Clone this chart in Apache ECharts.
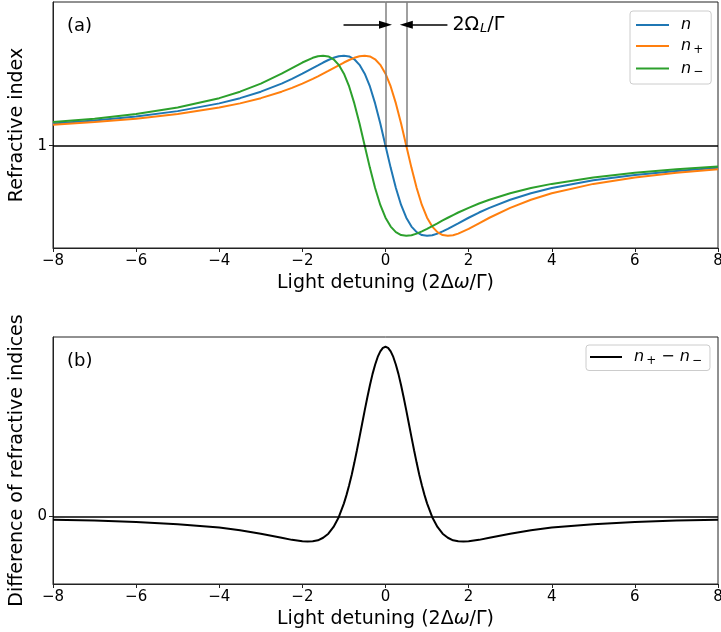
<!DOCTYPE html>
<html><head><meta charset="utf-8">
<script src="https://cdn.jsdelivr.net/npm/echarts@6/dist/echarts.min.js"></script>
<style>html,body{margin:0;padding:0;background:#fff}#c{width:721px;height:632px}</style>
</head><body><div id="c"></div><script>
// ---- data ----
const detuning = [-8,-7,-6,-5,-4,-3.5,-3,-2.5,-2.25,-2,
  -1.75,-1.625,-1.5,-1.375,-1.25,-1.125,-1,-0.875,-0.75,-0.625,-0.5,-0.375,-0.25,-0.125,0,
  0.125,0.25,0.375,0.5,0.625,0.75,0.875,1,1.125,1.25,1.375,1.5,1.625,1.75,
  2,2.25,2.5,3,3.5,4,5,6,7,8];
const nValues = [1.123,1.140,1.162,1.192,1.235,1.264,1.300,1.345,1.371,1.400,
  1.431,1.446,1.462,1.476,1.488,1.497,1.500,1.496,1.480,1.449,1.400,1.329,1.235,1.123,1.000,
  0.877,0.765,0.671,0.600,0.551,0.520,0.504,0.500,0.503,0.512,0.524,0.538,0.554,0.569,
  0.600,0.629,0.655,0.700,0.736,0.765,0.808,0.838,0.860,0.877];
const nPlusValues = [1.116,1.131,1.150,1.176,1.212,1.235,1.264,1.300,1.321,1.345,
  1.371,1.385,1.400,1.415,1.431,1.446,1.462,1.476,1.488,1.497,1.500,1.496,1.480,1.449,1.400,
  1.329,1.235,1.123,1.000,0.877,0.765,0.671,0.600,0.551,0.520,0.504,0.500,0.503,0.512,
  0.538,0.569,0.600,0.655,0.700,0.736,0.788,0.824,0.850,0.869];
const nMinusValues = [1.131,1.150,1.176,1.212,1.264,1.300,1.345,1.400,1.431,1.462,
  1.488,1.497,1.500,1.496,1.480,1.449,1.400,1.329,1.235,1.123,1.000,0.877,0.765,0.671,0.600,
  0.551,0.520,0.504,0.500,0.503,0.512,0.524,0.538,0.554,0.569,0.585,0.600,0.615,0.629,
  0.655,0.679,0.700,0.736,0.765,0.788,0.824,0.850,0.869,0.884];
const diffDetuning = [-8,-7,-6,-5,-4,-3.5,-3,-2.5,-2.25,-2,-1.875,
  -1.75,-1.625,-1.5,-1.375,-1.25,-1.125,-1,
  -0.9375,-0.875,-0.8125,-0.75,-0.6875,-0.625,-0.5625,-0.5,-0.4375,-0.375,-0.3125,-0.25,-0.1875,-0.125,-0.0625,0,
  0.0625,0.125,0.1875,0.25,0.3125,0.375,0.4375,0.5,0.5625,0.625,0.6875,0.75,0.8125,0.875,0.9375,
  1,1.125,1.25,1.375,1.5,1.625,1.75,
  1.875,2,2.25,2.5,3,3.5,4,5,6,7,8];
const diffValues = [-0.015,-0.019,-0.026,-0.036,-0.052,-0.065,-0.081,-0.100,-0.110,-0.117,-0.118,
  -0.117,-0.112,-0.100,-0.081,-0.049,-0.003,0.062,
  0.102,0.147,0.197,0.253,0.312,0.374,0.437,0.500,0.561,0.619,0.671,0.715,0.752,0.778,0.795,0.800,
  0.795,0.778,0.752,0.715,0.671,0.619,0.561,0.500,0.437,0.374,0.312,0.253,0.197,0.147,0.102,
  0.062,-0.003,-0.049,-0.081,-0.100,-0.112,-0.117,
  -0.118,-0.117,-0.110,-0.100,-0.081,-0.065,-0.052,-0.036,-0.026,-0.019,-0.015];
const topYTicks = [1];
const bottomYTicks = [0];
const topYRange = [0.432, 1.798];
const bottomYRange = [-0.318, 0.846];
const xRange = [-8, 8];
const xTickStep = 2;
const splittingMarks = [0, 0.5];      // 2Ω_L/Γ marker lines (x positions)
const arrowLevel = 1.672;             // y value of the annotation arrows
const arrowTails = [-1.01, 1.49];

// ---- chart ----
const FONT = 'DejaVu Sans';
const chart = echarts.init(document.getElementById('c'), null, {renderer: 'canvas'});
const pairs = (xs, ys) => xs.map((x, i) => [x, ys[i]]);
const fmtX = v => v < 0 ? '\u2212' + Math.abs(v) : String(v);

function xAxis(gi) {
  return {
    type: 'value', gridIndex: gi, min: xRange[0], max: xRange[1], interval: xTickStep,
    axisLine: {show: true, onZero: false, lineStyle: {color: '#222', width: 1}},
    axisTick: {show: true, length: 4, lineStyle: {color: '#222', width: 1}},
    axisLabel: {color: '#000', fontSize: 15, fontFamily: FONT, margin: 6, formatter: fmtX},
    splitLine: {show: false},
    name: 'Light detuning (2Δ{i|ω}/Γ)', nameLocation: 'middle', nameGap: 26,
    nameTextStyle: {color: '#000', fontSize: 19, fontFamily: FONT,
      rich: {i: {fontStyle: 'italic', fontSize: 19, fontFamily: FONT, color: '#000'}}}
  };
}
function yAxis(gi, range, ticks, name) {
  return {
    type: 'value', gridIndex: gi, min: range[0], max: range[1],
    axisLine: {show: true, onZero: false, lineStyle: {color: '#222', width: 1}},
    axisTick: {show: true, length: 4, customValues: ticks, lineStyle: {color: '#222', width: 1}},
    axisLabel: {color: '#000', fontSize: 15, fontFamily: FONT, margin: 6, customValues: ticks},
    splitLine: {show: false},
    name: name, nameLocation: 'middle', nameGap: 19,
    nameTextStyle: {color: '#000', fontSize: 19, fontFamily: FONT}
  };
}
const richLegend = {
  f: {fontStyle: 'italic', fontSize: 16, fontFamily: FONT, color: '#000', padding: [0, 0, 0, 7]},
  i: {fontStyle: 'italic', fontSize: 16, fontFamily: FONT, color: '#000'},
  s: {fontSize: 12, fontFamily: FONT, color: '#000', padding: [7, 0, 0, 2]},
  o: {fontSize: 16, fontFamily: FONT, color: '#000'}
};
const legendText = {
  'n': '{f|n}',
  'n+': '{f|n}{s|+}',
  'n-': '{f|n}{s|\u2212}',
  'n+ - n-': '{f|n}{s|+}{o| \u2212 }{i|n}{s|\u2212}'
};
const lineSeries = (name, xs, ys, color, xi, extra) => Object.assign({
  name, type: 'line', xAxisIndex: xi, yAxisIndex: xi, data: pairs(xs, ys),
  showSymbol: false, smooth: false, color,
  lineStyle: {color, width: 2}, emphasis: {disabled: true}, silent: true
}, extra || {});

const option = {
  animation: false,
  backgroundColor: '#fff',
  grid: [
    {left: 53, right: 3, top: 2, height: 246, show: true, borderColor: '#222', borderWidth: 1,
     outerBoundsMode: 'none', containLabel: false},
    {left: 53, right: 3, top: 337, height: 247, show: true, borderColor: '#222', borderWidth: 1,
     outerBoundsMode: 'none', containLabel: false}
  ],
  xAxis: [xAxis(0), xAxis(1)],
  yAxis: [yAxis(0, topYRange, topYTicks, 'Refractive index'),
          yAxis(1, bottomYRange, bottomYTicks, 'Difference of refractive indices')],
  legend: [
    {data: ['n', 'n+', 'n-'], orient: 'vertical', left: 630, top: 11,
     icon: 'rect', itemWidth: 33, itemHeight: 2, itemGap: 5,
     padding: [6, 8, 6, 6], borderColor: '#cccccc', borderWidth: 1, borderRadius: 3,
     backgroundColor: 'rgba(255,255,255,0.8)',
     formatter: n => legendText[n], textStyle: {rich: richLegend, fontSize: 16}},
    {data: ['n+ - n-'], orient: 'vertical', left: 586, top: 345,
     icon: 'rect', itemWidth: 32, itemHeight: 2,
     padding: [4, 8, 4, 4], borderColor: '#cccccc', borderWidth: 1, borderRadius: 3,
     backgroundColor: 'rgba(255,255,255,0.8)',
     formatter: n => legendText[n], textStyle: {rich: richLegend, fontSize: 16}}
  ],
  series: [
    lineSeries('n', detuning, nValues, '#1f77b4', 0, {
      markLine: {
        silent: true, animation: false, symbol: ['none', 'none'], label: {show: false},
        data: [
          [{coord: [splittingMarks[0], 1], lineStyle: {color: '#808080', width: 1.5, type: 'solid'}},
           {coord: [splittingMarks[0], topYRange[1]]}],
          [{coord: [splittingMarks[1], 1], lineStyle: {color: '#808080', width: 1.5, type: 'solid'}},
           {coord: [splittingMarks[1], topYRange[1]]}],
          [{coord: [arrowTails[0], arrowLevel], symbol: 'none', lineStyle: {color: '#000', width: 1.5, type: 'solid'}},
           {coord: [splittingMarks[0], arrowLevel], symbol: 'triangle', symbolSize: [8, 13]}],
          [{coord: [arrowTails[1], arrowLevel], symbol: 'none', lineStyle: {color: '#000', width: 1.5, type: 'solid'}},
           {coord: [splittingMarks[1], arrowLevel], symbol: 'triangle', symbolSize: [8, 13]}]
        ]
      }
    }),
    lineSeries('n+', detuning, nPlusValues, '#ff7f0e', 0),
    lineSeries('n-', detuning, nMinusValues, '#2ca02c', 0, {
      markLine: {
        silent: true, animation: false, symbol: ['none', 'none'], label: {show: false},
        lineStyle: {color: '#000', width: 1.5, type: 'solid'},
        data: [{yAxis: topYTicks[0]}]
      }
    }),
    lineSeries('n+ - n-', diffDetuning, diffValues, '#000000', 1, {
      markLine: {
        silent: true, animation: false, symbol: ['none', 'none'], label: {show: false},
        lineStyle: {color: '#000', width: 1.5, type: 'solid'},
        data: [{yAxis: bottomYTicks[0]}]
      }
    })
  ]
};
chart.setOption(option);

const annot = chart.convertToPixel({xAxisIndex: 0, yAxisIndex: 0}, [arrowTails[1], arrowLevel]);
chart.setOption({
  graphic: [
    {type: 'text', left: 67, top: 17, style: {text: '(a)', fontSize: 18, fontFamily: FONT, fill: '#000'}},
    {type: 'text', left: 67, top: 352, style: {text: '(b)', fontSize: 18, fontFamily: FONT, fill: '#000'}},
    {type: 'text', x: annot[0] + 5, y: annot[1], style: {
      text: '{a|2Ω}{s|L}{a|/Γ}', verticalAlign: 'middle', align: 'left',
      rich: {a: {fontSize: 19, fontFamily: FONT, fill: '#000'},
             s: {fontSize: 13, fontFamily: FONT, fontStyle: 'italic', fill: '#000', padding: [8, 0, 0, 1]}}
    }}
  ]
});
</script></body></html>
